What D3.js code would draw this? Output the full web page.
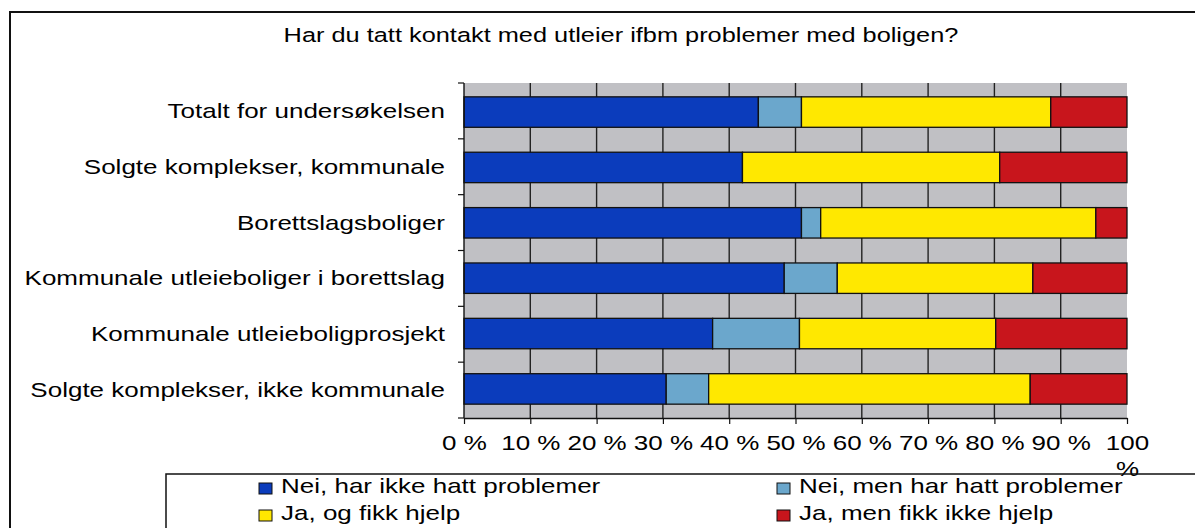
<!DOCTYPE html>
<html>
<head>
<meta charset="utf-8">
<script src="https://cdn.jsdelivr.net/npm/d3@7"></script>
<style>
  body { margin: 0; background: #fff; }
  text { font-family: "Liberation Sans", Arial, sans-serif; fill: #000; }
</style>
</head>
<body>
<div id="chart"></div>
<script>
const title = "Har du tatt kontakt med utleier ifbm problemer med boligen?";
const categories = [
  "Totalt for undersøkelsen",
  "Solgte komplekser, kommunale",
  "Borettslagsboliger",
  "Kommunale utleieboliger i borettslag",
  "Kommunale utleieboligprosjekt",
  "Solgte komplekser, ikke kommunale"
];
const seriesNames = [
  "Nei, har ikke hatt problemer",
  "Nei, men har hatt problemer",
  "Ja, og fikk hjelp",
  "Ja, men fikk ikke hjelp"
];
// percent per category, in category order
const neiIkkeProblemer = [44.4, 42.0, 50.9, 48.3, 37.5, 30.5];
const neiMenProblemer  = [6.5, 0.0, 2.9, 8.0, 13.1, 6.4];
const jaFikkHjelp      = [37.6, 38.8, 41.5, 29.5, 29.6, 48.5];
const jaIkkeHjelp      = [11.5, 19.2, 4.7, 14.2, 19.8, 14.6];
const tickValues = [0, 10, 20, 30, 40, 50, 60, 70, 80, 90, 100];
const colors = ["#0b3cbc", "#6ba7cc", "#ffe800", "#c8151c"];

const W = 1195, H = 528;
const FS = 20, SX = 1.3; // scanned original is stretched horizontally

const svg = d3.select("#chart").append("svg").attr("width", W).attr("height", H);

// table for d3.stack
const table = categories.map((c, i) => ({
  cat: c,
  s0: neiIkkeProblemer[i], s1: neiMenProblemer[i], s2: jaFikkHjelp[i], s3: jaIkkeHjelp[i]
}));
const stacked = d3.stack().keys(["s0", "s1", "s2", "s3"])(table);

const x = d3.scaleLinear().domain([0, 100]).range([464, 1127]);
const y = d3.scaleBand().domain(categories).range([83, 418]).paddingInner(0.45).paddingOuter(0.25);
const yb = d3.scaleBand().domain(categories).range([83, 418]);

// outer frame
svg.append("rect").attr("x", 10).attr("y", 12).attr("width", 1200).attr("height", 540)
  .attr("fill", "none").attr("stroke", "#111").attr("stroke-width", 2);

// title
svg.append("text").attr("transform", `translate(621,42) scale(${SX},1)`)
  .attr("text-anchor", "middle").attr("font-size", 19.5).text(title);

// plot background
svg.append("rect").attr("x", x(0)).attr("y", 83).attr("width", x(100) - x(0)).attr("height", 335)
  .attr("fill", "#c0c0c4");

// vertical gridlines
svg.append("g").selectAll("line").data(tickValues.slice(1, -1)).join("line")
  .attr("x1", d => x(d)).attr("x2", d => x(d)).attr("y1", 83).attr("y2", 418)
  .attr("stroke", "#222").attr("stroke-width", 1.4);

// bars
svg.append("g").selectAll("g").data(stacked).join("g")
  .attr("fill", (d, i) => colors[i])
  .selectAll("rect").data(d => d).join("rect")
  .attr("x", d => x(d[0])).attr("width", d => x(d[1]) - x(d[0]))
  .attr("y", d => y(d.data.cat)).attr("height", y.bandwidth())
  .attr("stroke", "#111").attr("stroke-width", 1.3);

// y axis
const yAxis = svg.append("g").attr("transform", `translate(${x(0)},0)`);
yAxis.append("line").attr("x1", 0).attr("x2", 0).attr("y1", 83).attr("y2", 418).attr("stroke", "#111").attr("stroke-width", 1.4);
yAxis.selectAll("line.tk").data(d3.range(categories.length + 1)).join("line").attr("class", "tk")
  .attr("x1", -6).attr("x2", 0)
  .attr("y1", i => 83 + i * yb.step()).attr("y2", i => 83 + i * yb.step())
  .attr("stroke", "#111").attr("stroke-width", 1.2);
yAxis.selectAll("text").data(categories).join("text")
  .attr("transform", d => `translate(-19,${yb(d) + yb.bandwidth() / 2}) scale(${SX},1)`)
  .attr("text-anchor", "end").attr("dy", "0.35em").attr("font-size", FS).text(d => d);

// x axis
const xAxis = svg.append("g").attr("transform", "translate(0,418)")
  .call(d3.axisBottom(x).tickValues(tickValues).tickSize(6).tickSizeOuter(0).tickFormat(d => d + " %"));
xAxis.select(".domain").attr("stroke", "#111").attr("stroke-width", 1.4);
xAxis.selectAll(".tick line").attr("stroke", "#111").attr("stroke-width", 1.2);
xAxis.selectAll(".tick text").attr("font-size", FS).attr("fill", "#000")
  .attr("font-family", "Liberation Sans, Arial, sans-serif")
  .attr("y", 18).attr("transform", `scale(${SX},1)`)
  .each(function(d) {
    const t = d3.select(this);
    if (d === 100) {
      t.text(null);
      t.append("tspan").attr("x", 0).attr("dy", "0.71em").text("100");
      t.append("tspan").attr("x", 0).attr("dy", "1.3em").text("%");
    }
  });

// legend
const lg = svg.append("g");
lg.append("rect").attr("x", 166).attr("y", 474).attr("width", 1100).attr("height", 100)
  .attr("fill", "none").attr("stroke", "#111").attr("stroke-width", 1.5);
const legPos = [[259, 0], [777, 0], [259, 1], [777, 1]];
seriesNames.forEach((name, i) => {
  const [lx, row] = legPos[i];
  const ly = 483 + row * 27;
  lg.append("rect").attr("x", lx).attr("y", ly).attr("width", 13).attr("height", 11)
    .attr("fill", colors[i]).attr("stroke", "#111").attr("stroke-width", 1);
  lg.append("text").attr("transform", `translate(${lx + 22},${ly + 10}) scale(${SX},1)`)
    .attr("font-size", FS).text(name);
});
</script>
</body>
</html>
